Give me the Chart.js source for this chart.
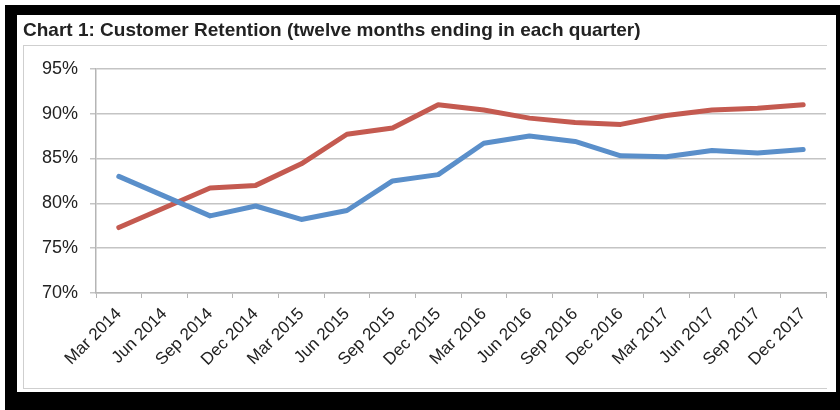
<!DOCTYPE html>
<html>
<head>
<meta charset="utf-8">
<script src="https://cdn.jsdelivr.net/npm/chart.js@4.4.1/dist/chart.umd.min.js"></script>
<style>
  html, body { margin: 0; padding: 0; background: #fff; }
  #frame { position: absolute; left: 5px; top: 5px; width: 835px; height: 405px; background: #000; }
  #inner { position: absolute; left: 17px; top: 15px; width: 819px; height: 377px; background: #fff; }
  #panel { position: absolute; left: 23px; top: 45px; width: 803px; height: 342px;
           border-top: 1px solid #cfcfcf; border-left: 1px solid #cfcfcf; border-bottom: 1px solid #cfcfcf; }
  #wrap { position: absolute; left: 0; top: 0; width: 840px; height: 410px; }
</style>
</head>
<body>
<div id="frame"></div>
<div id="inner"></div>
<div id="panel"></div>
<div id="wrap"><canvas id="lineChart"></canvas></div>
<script>
const quarters = ["Mar 2014", "Jun 2014", "Sep 2014", "Dec 2014", "Mar 2015", "Jun 2015", "Sep 2015", "Dec 2015",
                  "Mar 2016", "Jun 2016", "Sep 2016", "Dec 2016", "Mar 2017", "Jun 2017", "Sep 2017", "Dec 2017"];
const blueSeries = [83.0, 80.8, 78.6, 79.7, 78.2, 79.2, 82.5, 83.2, 86.7, 87.5, 86.9, 85.3, 85.2, 85.9, 85.6, 86.0];
const redSeries = [77.3, 79.5, 81.7, 82.0, 84.4, 87.7, 88.4, 91.0, 90.4, 89.5, 89.0, 88.8, 89.8, 90.4, 90.6, 91.0];
const yTicks = [70, 75, 80, 85, 90, 95];

const CHART = document.getElementById("lineChart");

let lineChart = new Chart(CHART, {
    type: 'line',
    data: {
        labels: quarters,
        datasets: [
            {
                label: "Series 1",
                data: blueSeries,
                borderColor: "#5a8fca",
                backgroundColor: "#5a8fca",
                borderWidth: 5,
                fill: false,
                tension: 0,
                pointRadius: 0,
                borderCapStyle: 'round',
                borderJoinStyle: 'round'
            },
            {
                label: "Series 2",
                data: redSeries,
                borderColor: "#c45a50",
                backgroundColor: "#c45a50",
                borderWidth: 5,
                fill: false,
                tension: 0,
                pointRadius: 0,
                borderCapStyle: 'round',
                borderJoinStyle: 'round'
            }
        ]
    },
    options: {
        responsive: true,
        maintainAspectRatio: false,
        animation: false,
        layout: { padding: { left: 23, right: 14, top: 0, bottom: 0 } },
        plugins: {
            legend: { display: false },
            tooltip: { enabled: false },
            title: {
                display: true,
                text: "Chart 1: Customer Retention (twelve months ending in each quarter)",
                align: 'start',
                color: "#222",
                font: { family: "Liberation Sans", size: 19, weight: 'bold' },
                padding: { top: 19, bottom: 27 }
            }
        },
        scales: {
            x: {
                offset: true,
                grid: { offset: true, drawOnChartArea: false, drawTicks: true, tickLength: 5, color: "#b5b5b5" },
                border: { display: true, color: "#b5b5b5", width: 1.5 },
                ticks: {
                    autoSkip: false,
                    maxRotation: 45,
                    minRotation: 45,
                    padding: 6,
                    color: "#222",
                    font: { family: "Liberation Sans", size: 17 }
                },
                afterFit: function (scale) { scale.height = 117; }
            },
            y: {
                min: 70,
                max: 95,
                afterBuildTicks: function (scale) { scale.ticks = yTicks.map(v => ({ value: v })); },
                grid: { color: "#c4c4c4", lineWidth: 1.5, tickLength: 6, drawTicks: true },
                border: { display: true, color: "#b5b5b5", width: 1.5 },
                ticks: {
                    padding: 12,
                    color: "#222",
                    font: { family: "Liberation Sans", size: 18 },
                    callback: function (v) { return v + "%"; }
                },
                afterFit: function (scale) { scale.width = 73; }
            }
        }
    }
});
</script>
</body>
</html>
